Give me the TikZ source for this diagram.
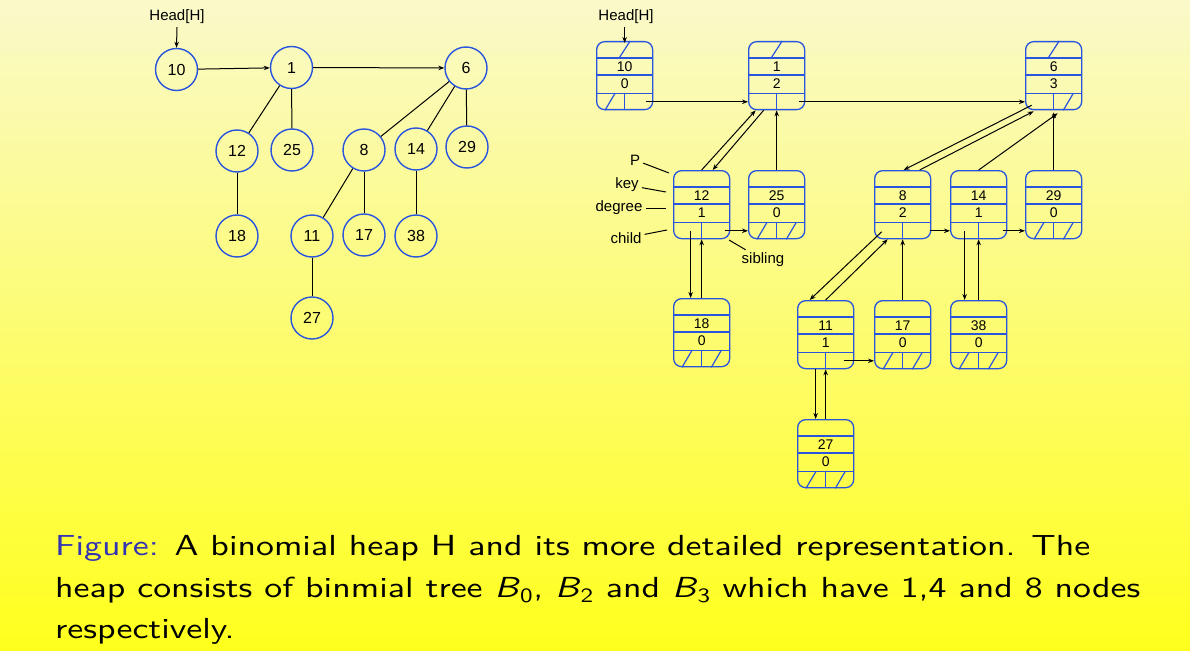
\documentclass[tikz,border=0pt]{standalone}
\usepackage{fontspec}
\usepackage{graphicx}
\newfontfamily\labelfont{Liberation Sans}
\newfontfamily\capfont[ItalicFont=lmsans10-oblique.otf]{lmsans10-regular.otf}
\usetikzlibrary{calc,arrows.meta}
\definecolor{nodeblue}{RGB}{40,84,222}
\definecolor{capblue}{RGB}{51,51,179}
\definecolor{bgtop}{RGB}{250,249,202}
\definecolor{bgbot}{RGB}{255,255,28}

% one node of the detailed heap: name, x, y (top-left), key, degree
\newcommand\heapcell[5]{%
  \node[cell] (#1) at (#2,#3) {};
  \coordinate (#1-b) at ([yshift=8.5pt]#1.south);
  \draw[rowline] ([yshift=-17pt]#1.north west) -- ([yshift=-17pt]#1.north east)
    ([yshift=-34pt]#1.north west) -- ([yshift=-34pt]#1.north east)
    ([yshift=17pt]#1.south west) -- ([yshift=17pt]#1.south east)
    ([yshift=17pt]#1.south) -- (#1.south);
  \node[celltext] (#1-key) at ([yshift=-25.5pt]#1.north) {#4};
  \node[celltext] (#1-deg) at ([yshift=-42.5pt]#1.north) {#5};
}
% null pointers drawn as slashes
\newcommand\nullparent[1]{\draw[slash] ([xshift=-5.5pt,yshift=-17pt]#1.north) -- ([xshift=5.5pt]#1.north);}
\newcommand\nullchild[1]{\draw[slash] ([xshift=9pt]#1.south west) -- ([xshift=19pt,yshift=17pt]#1.south west);}
\newcommand\nullsibling[1]{\draw[slash] ([xshift=-19pt]#1.south east) -- ([xshift=-9pt,yshift=17pt]#1.south east);}
% caption line, widened
\newcommand\capline[1]{\scalebox{1.236}[1]{#1}}

\begin{document}
\begin{tikzpicture}[x=1pt,y=-1pt,
  circ/.style={circle,draw=nodeblue,line width=1.4pt,minimum size=42pt,inner sep=0pt,
    font=\labelfont\fontsize{16}{18}\selectfont},
  cell/.style={draw=nodeblue,line width=1.3pt,rounded corners=8pt,minimum width=56pt,
    minimum height=68pt,inner sep=0pt,anchor=north west},
  rowline/.style={draw=nodeblue,line width=1.3pt},
  slash/.style={draw=nodeblue,line width=1.2pt},
  celltext/.style={inner sep=0pt,font=\labelfont\fontsize{14}{16}\selectfont},
  lbl/.style={inner sep=3pt,font=\labelfont\fontsize{15}{17}\selectfont},
  edge/.style={draw=black,line width=1pt},
  ptr/.style={draw=black,line width=1pt,-{Stealth[length=6pt,width=4.5pt]}},
  captext/.style={anchor=base west,inner sep=0pt,font=\capfont\fontsize{29}{36}\selectfont}
]
\useasboundingbox (0,0) rectangle (1190,650);
\shade[top color=bgtop,bottom color=bgbot] (0,0) rectangle (1190,650);

% ---------- binomial heap as trees ----------
\node[lbl] (headL) at (177,17) {Head[H]};
\node[circ] (c10) at (176.5,69.5) {10};
\node[circ] (c1) at (291.5,67.5) {1};
\node[circ] (c6) at (466,68) {6};
\node[circ] (c12) at (237,151) {12};
\node[circ] (c25) at (292,150) {25};
\node[circ] (c8) at (364,150) {8};
\node[circ] (c14) at (416,149) {14};
\node[circ] (c29) at (467,147) {29};
\node[circ] (c18) at (237,236) {18};
\node[circ] (c11) at (312,236) {11};
\node[circ] (c17) at (364,235) {17};
\node[circ] (c38) at (416,236) {38};
\node[circ] (c27) at (312,318) {27};

\draw[ptr] (headL.south) -- (c10.north);
\draw[ptr] (c10) -- (c1);
\draw[ptr] (c1) -- (c6);
\draw[edge] (c1) -- (c12);
\draw[edge] (c1) -- (c25);
\draw[edge] (c12) -- (c18);
\draw[edge] (c6) -- (c8);
\draw[edge] (c6) -- (c14);
\draw[edge] (c6) -- (c29);
\draw[edge] (c8) -- (c11);
\draw[edge] (c8) -- (c17);
\draw[edge] (c14) -- (c38);
\draw[edge] (c11) -- (c27);

% ---------- detailed representation ----------
\node[lbl] (headR) at (626,17) {Head[H]};
\heapcell{h10}{596}{41}{10}{0}
\heapcell{h1}{748}{41}{1}{2}
\heapcell{h6}{1025}{41}{6}{3}
\heapcell{h12}{673}{170}{12}{1}
\heapcell{h25}{748}{170}{25}{0}
\heapcell{h8}{874}{170}{8}{2}
\heapcell{h14}{950}{170}{14}{1}
\heapcell{h29}{1025}{170}{29}{0}
\heapcell{h18}{673}{298}{18}{0}
\heapcell{h11}{797}{300}{11}{1}
\heapcell{h17}{874}{300}{17}{0}
\heapcell{h38}{950}{300}{38}{0}
\heapcell{h27}{797}{419}{27}{0}

\nullparent{h10} \nullparent{h1} \nullparent{h6}
\nullchild{h10} \nullsibling{h6}
\foreach \n in {h25,h29,h18,h17,h38,h27}{\nullchild{\n} \nullsibling{\n}}

% field labels
\node[lbl] (lP) at (635,160) {P};
\node[lbl] (lkey) at (627,185) {key};
\node[lbl] (ldeg) at (619,208) {degree};
\node[lbl] (lchild) at (626,238) {child};
\node[lbl] (lsib) at (763,260) {sibling};
\coordinate (aP) at (669,173);
\coordinate (akey) at (666,192);
\coordinate (adeg) at (666,208);
\coordinate (achild) at (667,230);
\coordinate (asib) at (729,240);
\draw[edge] (lP) -- (aP);
\draw[edge] (lkey) -- (akey);
\draw[edge] (ldeg) -- (adeg);
\draw[edge] (lchild) -- (achild);
\draw[edge] (lsib) -- (asib);

% pointers
\draw[ptr] (headR.south -| h10.north) -- ([yshift=-2pt]h10.north);
\draw[ptr] ([xshift=21pt]h10-b) -- (h1.west |- h10-b);
\draw[ptr] ([xshift=22pt]h1-b) -- (h6.west |- h1-b);
\draw[ptr] ([xshift=-13pt]h1.south) -- ([xshift=11pt]h12.north);
\draw[ptr] (h12.north) -- ([xshift=-21pt]h1.south);
\draw[ptr] (h25.north) -- (h1.south);
\draw[ptr] ([xshift=23pt]h12-b) -- (h25.west |- h12-b);
\draw[ptr] ([xshift=-11pt]h12-b) -- ([xshift=-11pt]h18.north);
\draw[ptr] (h18.north) -- (h12.south);
\draw[ptr] ([xshift=-22pt,yshift=5pt]h6.south) -- ([xshift=1pt]h8.north);
\draw[ptr] ([xshift=17pt]h8.north) -- ([xshift=-20pt,yshift=-1pt]h6.south);
\draw[ptr] (h14.north) -- ([xshift=4pt,yshift=-3pt]h6.south);
\draw[ptr] (h29.north) -- ([yshift=-2pt]h6.south);
\draw[ptr] ([xshift=27pt]h8-b) -- (h14.west |- h8-b);
\draw[ptr] ([xshift=24pt]h14-b) -- (h29.west |- h14-b);
\draw[ptr] ([xshift=-21pt,yshift=-1pt]h8-b) -- ([xshift=-16pt]h11.north);
\draw[ptr] (h11.north) -- ([xshift=-15pt]h8.south);
\draw[ptr] (h17.north) -- (h8.south);
\draw[ptr] ([xshift=-14pt]h14-b) -- ([xshift=-14pt]h38.north);
\draw[ptr] (h38.north) -- (h14.south);
\draw[ptr] ([xshift=18pt]h11-b) -- (h17.west |- h11-b);
\draw[ptr] ([xshift=-10pt]h11.south) -- ([xshift=-10pt]h27.north);
\draw[ptr] (h27.north) -- (h11.south);

% ---------- caption ----------
\node[captext] (cap1) at (55,555) {\capline{{\color{capblue}Figure:} A binomial heap H and its more detailed representation. The}};
\node[captext] (cap2) at (55,597) {\capline{heap consists of binmial tree \textit{B}\textsubscript{0}, \textit{B}\textsubscript{2} and \textit{B}\textsubscript{3} which have 1,4 and 8 nodes}};
\node[captext] (cap3) at (55,638) {\capline{respectively.}};
\end{tikzpicture}
\end{document}
